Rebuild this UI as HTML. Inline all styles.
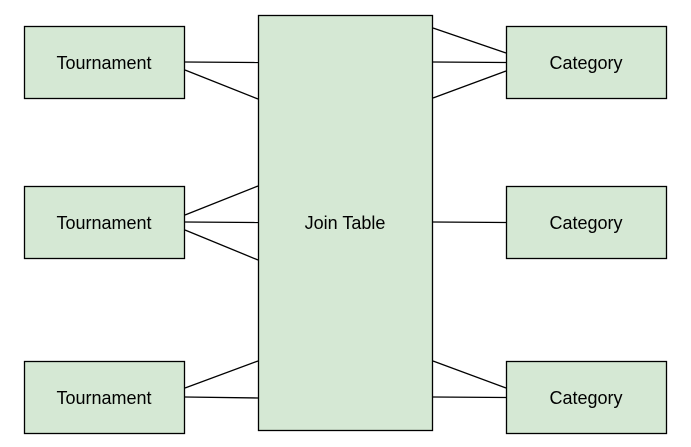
<!DOCTYPE html>
<html><head><style>body{margin:0;background:#fff}svg{display:block}</style></head><body>
<svg width="691" height="447" xmlns="http://www.w3.org/2000/svg" font-family="Liberation Sans, sans-serif" font-size="18">
<g fill="#d5e8d4" stroke="#000" stroke-width="1.3">
<rect x="24.5" y="26.5" width="160" height="72"/>
<rect x="24.5" y="186.5" width="160" height="72"/>
<rect x="24.5" y="361.5" width="160" height="72"/>
<rect x="258.5" y="15.5" width="174" height="415"/>
<rect x="506.5" y="26.5" width="160" height="72"/>
<rect x="506.5" y="186.5" width="160" height="72"/>
<rect x="506.5" y="361.5" width="160" height="72"/>
</g>
<g stroke="#000" stroke-width="1.3">
<line x1="185" y1="62" x2="258" y2="62.5"/>
<line x1="185" y1="70" x2="258" y2="99"/>
<line x1="185" y1="215" x2="258" y2="186"/>
<line x1="185" y1="222" x2="258" y2="222.5"/>
<line x1="185" y1="230" x2="258" y2="260"/>
<line x1="185" y1="388" x2="258" y2="361"/>
<line x1="185" y1="397" x2="258" y2="398"/>
<line x1="433" y1="28" x2="506" y2="53"/>
<line x1="433" y1="62" x2="506" y2="62.5"/>
<line x1="433" y1="98" x2="506" y2="71"/>
<line x1="433" y1="222" x2="506" y2="222.5"/>
<line x1="433" y1="361" x2="506" y2="388"/>
<line x1="433" y1="397" x2="506" y2="397.5"/>
</g>
<g text-anchor="middle" fill="#000">
<text x="104" y="69">Tournament</text>
<text x="104" y="229">Tournament</text>
<text x="104" y="404">Tournament</text>
<text x="345" y="229">Join Table</text>
<text x="586" y="69">Category</text>
<text x="586" y="229">Category</text>
<text x="586" y="404">Category</text>
</g>
</svg>
</body></html>
